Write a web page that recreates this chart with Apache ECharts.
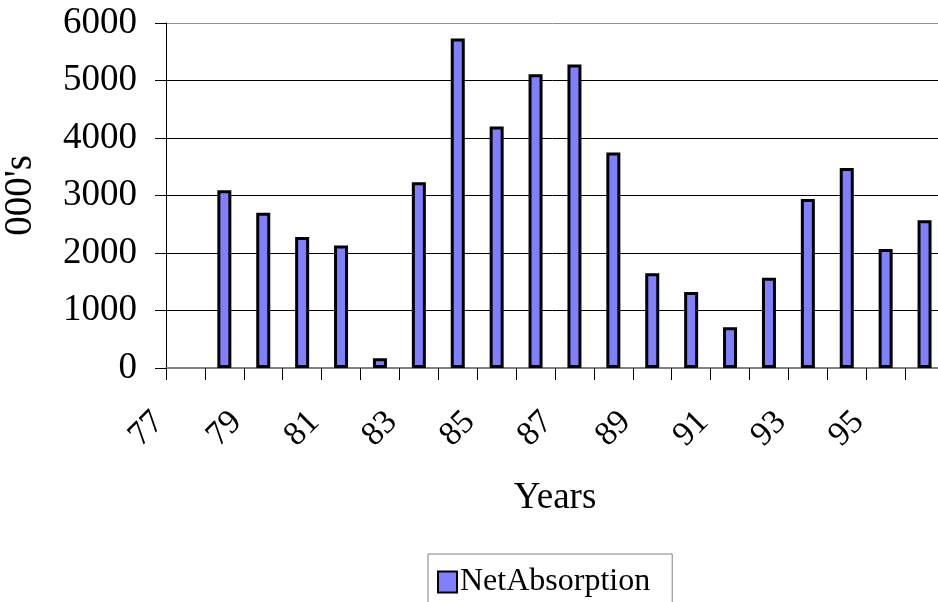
<!DOCTYPE html>
<html>
<head>
<meta charset="utf-8">
<script src="https://cdn.jsdelivr.net/npm/echarts@6/dist/echarts.min.js"></script>
<style>
html,body{margin:0;padding:0;background:#fff;}
#chart{width:938px;height:602px;}
</style>
</head>
<body>
<div id="chart"></div>
<script>
const categories = ['77','78','79','80','81','82','83','84','85','86','87','88','89','90','91','92','93','94','95','96'];
const netAbsorption = [null,3090,2700,2280,2130,170,3230,5730,4200,5110,5280,3750,1650,1320,710,1570,2940,3480,2070,2570];
const seriesName = 'NetAbsorption';
const yTicks = {min: 0, max: 6000, interval: 1000};
const xAxisTitle = 'Years';
const yAxisTitle = "000's";

const FONT = '"Liberation Serif", "Times New Roman", serif';
const chart = echarts.init(document.getElementById('chart'), null, {renderer: 'canvas'});
chart.setOption({
  animation: false,
  backgroundColor: '#ffffff',
  grid: {left: 166, top: 23, right: -6, bottom: 234, containLabel: false, outerBoundsMode: 'none'},
  legend: {
    data: [seriesName],
    left: 428, top: 554,
    orient: 'horizontal',
    itemWidth: 19, itemHeight: 21,
    icon: 'rect',
    borderColor: '#808080', borderWidth: 1,
    padding: [12, 22, 14, 9],
    itemStyle: {borderColor: '#000', borderWidth: 2},
    textStyle: {fontFamily: FONT, fontSize: 32, color: '#000', padding: [0, 0, 0, -2]}
  },
  xAxis: {
    type: 'category',
    data: categories,
    boundaryGap: true,
    name: xAxisTitle,
    nameLocation: 'middle',
    nameGap: 112,
    nameTextStyle: {fontFamily: FONT, fontSize: 37, color: '#000'},
    axisLine: {show: true, lineStyle: {color: '#808080', width: 2}},
    axisTick: {show: true, interval: 0, length: 12, lineStyle: {color: '#000', width: 1}},
    axisLabel: {
      interval: 1, rotate: 45, margin: 22,
      padding: [0, 38, 0, 0],
      fontFamily: FONT, fontSize: 34, color: '#000'
    },
    splitLine: {show: false}
  },
  yAxis: {
    type: 'value',
    min: yTicks.min, max: yTicks.max, interval: yTicks.interval,
    name: yAxisTitle,
    nameLocation: 'middle',
    nameGap: 126,
    nameRotate: 90,
    nameTextStyle: {fontFamily: FONT, fontSize: 39, color: '#000'},
    axisLine: {show: true, lineStyle: {color: '#000', width: 1}},
    axisTick: {show: true, length: 11, lineStyle: {color: '#000', width: 1}},
    axisLabel: {margin: 29, fontFamily: FONT, fontSize: 37, color: '#000', formatter: v => String(v)},
    splitLine: {show: true, lineStyle: {color: ['#808080', '#000', '#000', '#000', '#000', '#000', '#909090'], width: 1}}
  },
  series: [{
    name: seriesName,
    type: 'bar',
    data: netAbsorption,
    barWidth: 14,
    itemStyle: {color: '#8080ff', borderColor: '#000', borderWidth: 3}
  }]
});
</script>
</body>
</html>
